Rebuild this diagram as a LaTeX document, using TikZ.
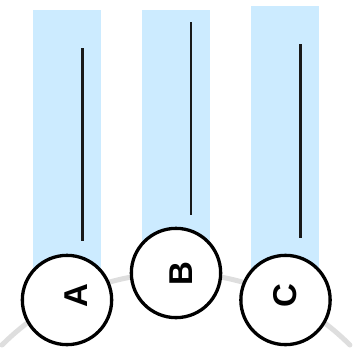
\documentclass[tikz,border=0pt]{standalone}
\usepackage{fontspec}
\setmainfont{Liberation Sans}
\definecolor{paneblue}{RGB}{204,235,255}
\definecolor{arcgray}{RGB}{222,222,222}
\begin{document}
\begin{tikzpicture}[x=1pt,y=-1pt,
  pane/.style={fill=paneblue,draw=none},
  stem/.style={line width=2.2pt,draw=black!90},
  ball/.style={circle,draw=black,line width=3.3pt,fill=white,minimum size=89.3pt,inner sep=0pt},
  lbl/.style={font=\fontsize{33}{33}\selectfont\bfseries,rotate=90,inner sep=0pt},
  track/.style={draw=arcgray,line width=5pt,line cap=round}]
\useasboundingbox (0,0) rectangle (358,361);
% panes
\fill[pane] (33,10) rectangle (101,300);
\fill[pane] (142,10) rectangle (210,273);
\fill[pane] (251,6) rectangle (319,300);
% track
\coordinate (tl) at (2,345);
\draw[track] (tl) arc[start angle=225,end angle=315,radius=246];
% stems
\coordinate (Atop) at (82.5,48.5);
\coordinate (Abot) at (82.5,241);
\coordinate (Btop) at (191,22.5);
\coordinate (Bbot) at (191,215);
\coordinate (Ctop) at (300.5,44.5);
\coordinate (Cbot) at (300.5,237.5);
\draw[stem] (Atop) -- (Abot);
\draw[stem] (Btop) -- (Bbot);
\draw[stem] (Ctop) -- (Cbot);
% balls
\node[ball] (A) at (67,300) {};
\node[ball] (B) at (176,273) {};
\node[ball] (C) at (285.5,300) {};
\node[lbl] (Al) at (76,296) {A};
\node[lbl] (Bl) at (181,274) {B};
\node[lbl] (Cl) at (285.5,296) {C};
\end{tikzpicture}
\end{document}
